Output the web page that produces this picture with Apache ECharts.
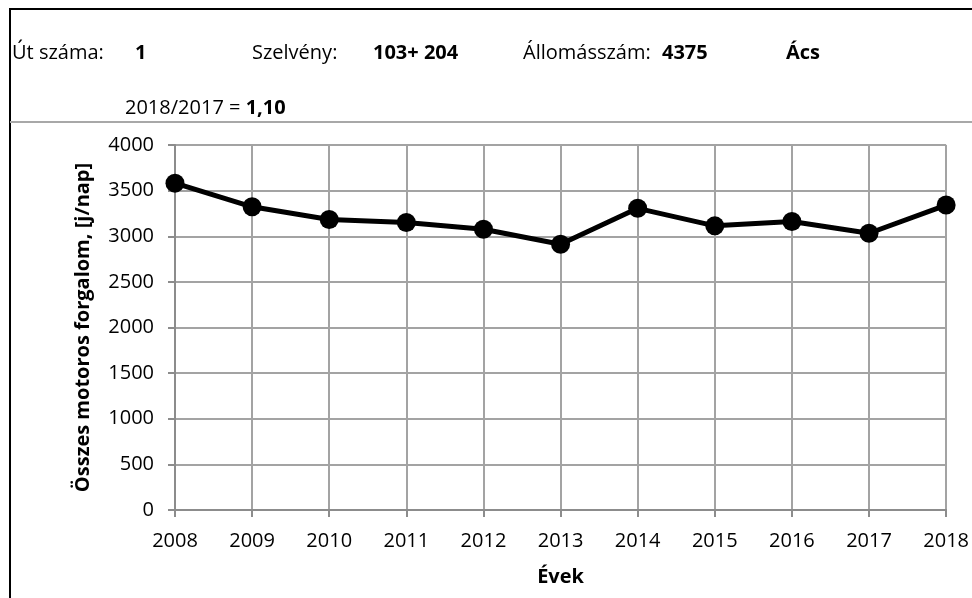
<!DOCTYPE html>
<html>
<head>
<meta charset="utf-8">
<script src="https://cdn.jsdelivr.net/npm/echarts@6/dist/echarts.min.js"></script>
<style>
  html, body { margin: 0; padding: 0; background: #fff; }
  #chart { width: 972px; height: 598px; }
</style>
</head>
<body>
<div id="chart"></div>
<script>
// Annual total motor traffic at the counting station
const years = ['2008', '2009', '2010', '2011', '2012', '2013', '2014', '2015', '2016', '2017', '2018'];
const traffic = [3582, 3323, 3184, 3151, 3077, 2912, 3306, 3114, 3162, 3033, 3342];

// Header fields
const headerLabels = ['Út száma:', 'Szelvény:', 'Állomásszám:'];
const headerValues = ['1', '103+ 204', '4375', 'Ács'];
const ratioLabel = '2018/2017 = ';
const ratioValue = '1,10';

const yAxisName = 'Összes motoros forgalom, [j/nap]';
const xAxisName = 'Évek';

const FONT = '"Open Sans", sans-serif';
const HDR = 20;
const chart = echarts.init(document.getElementById('chart'), null, { renderer: 'canvas' });

function hText(x, cy, text, bold) {
  return {
    type: 'text', x: x, y: cy,
    style: {
      text: text, fontFamily: FONT, fontSize: HDR, fill: '#000',
      fontWeight: bold ? 'bold' : 'normal', verticalAlign: 'middle', align: 'left'
    }
  };
}

chart.setOption({
  backgroundColor: '#fff',
  animation: false,
  grid: { left: 175, right: 24, top: 145, bottom: 88, containLabel: false },
  xAxis: {
    type: 'category',
    data: years,
    boundaryGap: false,
    name: xAxisName,
    nameLocation: 'middle',
    nameGap: 57,
    nameTextStyle: { fontFamily: FONT, fontSize: 20, fontWeight: 'bold', color: '#000' },
    axisLine: { show: true, lineStyle: { color: '#8c8c8c', width: 2 } },
    axisTick: { show: true, alignWithLabel: true, length: 7, lineStyle: { color: '#8c8c8c', width: 2 } },
    axisLabel: { fontFamily: FONT, fontSize: 20, color: '#000', margin: 21 },
    splitLine: { show: true, lineStyle: { color: '#a3a3a3', width: 2 } }
  },
  yAxis: {
    type: 'value',
    min: 0, max: 4000, interval: 500,
    name: yAxisName,
    nameLocation: 'middle',
    nameGap: 82,
    nameRotate: 90,
    nameTextStyle: { fontFamily: FONT, fontSize: 20, fontWeight: 'bold', color: '#000' },
    axisLine: { show: true, lineStyle: { color: '#8c8c8c', width: 2 } },
    axisTick: { show: true, length: 7, lineStyle: { color: '#8c8c8c', width: 2 } },
    axisLabel: { fontFamily: FONT, fontSize: 20, color: '#000', margin: 21, formatter: v => String(v) },
    splitLine: { show: true, lineStyle: { color: '#a3a3a3', width: 2 } }
  },
  series: [{
    type: 'line',
    data: traffic,
    symbol: 'circle',
    symbolSize: 19,
    lineStyle: { color: '#000', width: 5 },
    itemStyle: { color: '#000' },
    z: 5
  }],
  graphic: [
    // frame lines
    { type: 'line', shape: { x1: 10, y1: 9, x2: 972, y2: 9 }, style: { stroke: '#000', lineWidth: 2 } },
    { type: 'line', shape: { x1: 10, y1: 8, x2: 10, y2: 598 }, style: { stroke: '#000', lineWidth: 2 } },
    { type: 'line', shape: { x1: 10, y1: 122, x2: 972, y2: 122 }, style: { stroke: '#a8a8a8', lineWidth: 2 } },
    // header texts
    hText(12, 53, headerLabels[0], false),
    hText(135, 53, headerValues[0], true),
    hText(252, 53, headerLabels[1], false),
    hText(373, 53, headerValues[1], true),
    hText(523, 53, headerLabels[2], false),
    hText(662, 53, headerValues[2], true),
    hText(786, 53, headerValues[3], true),
    {
      type: 'text', x: 125, y: 108,
      style: {
        text: '{n|' + ratioLabel + '}{b|' + ratioValue + '}',
        verticalAlign: 'middle', align: 'left',
        rich: {
          n: { fontFamily: FONT, fontSize: HDR, color: '#000' },
          b: { fontFamily: FONT, fontSize: HDR, color: '#000', fontWeight: 'bold' }
        }
      }
    }
  ]
});
</script>
</body>
</html>
